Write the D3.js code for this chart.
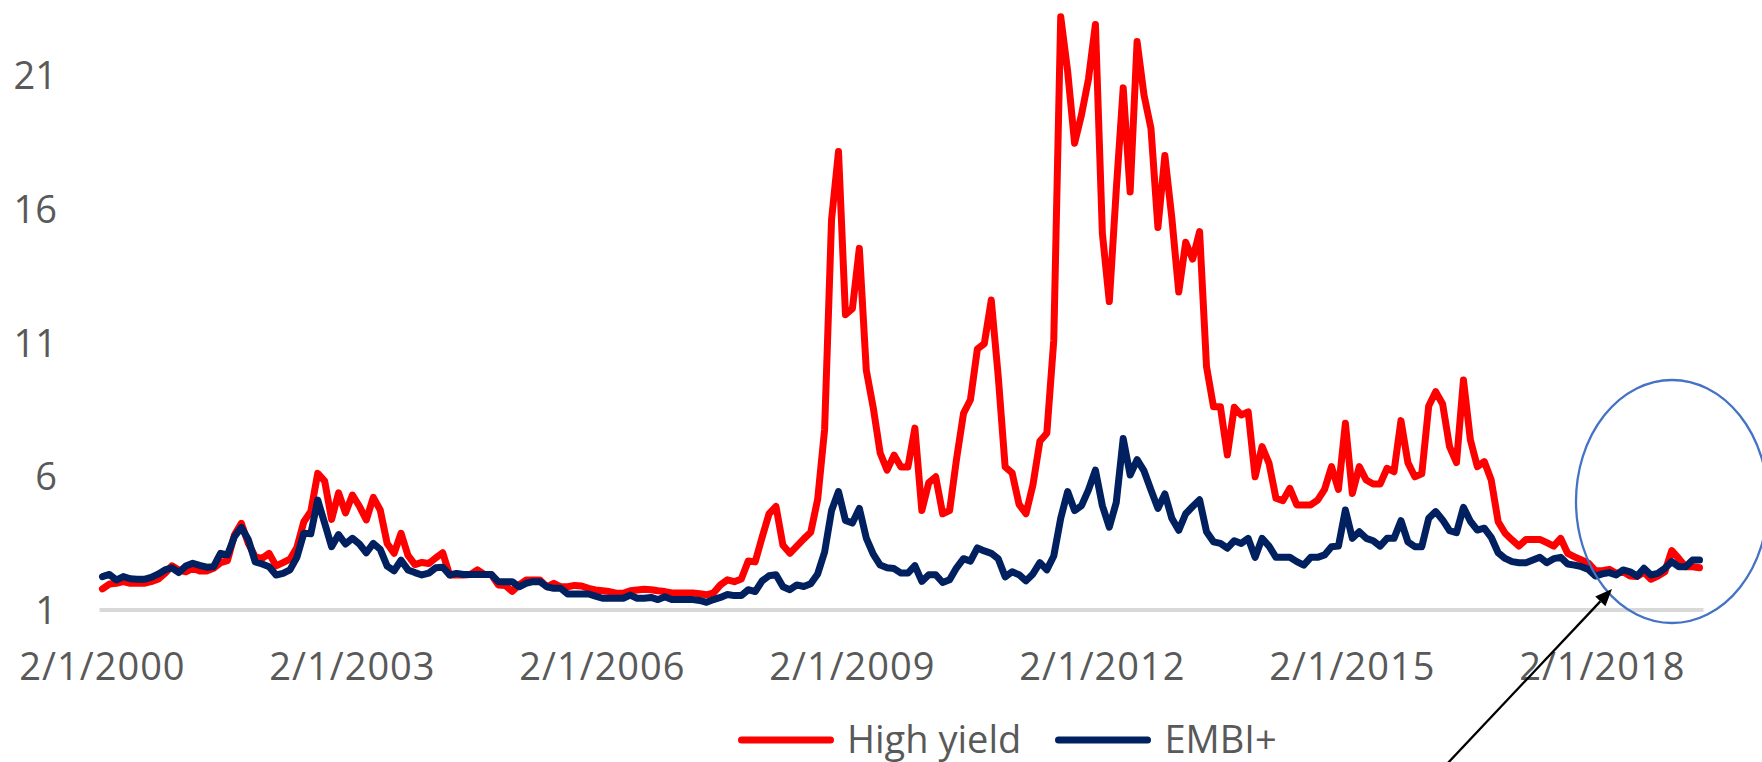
<!DOCTYPE html>
<html><head><meta charset="utf-8">
<script src="https://cdn.jsdelivr.net/npm/d3@7"></script>
<style>html,body{margin:0;padding:0;background:#fff;overflow:hidden}</style>
</head><body>
<svg id="chart" width="1762" height="762"></svg>
<script>
// High yield spread series (monthly, from 2/1/2000)
const highYield = [
1.77,1.95,1.98,2.04,1.98,1.98,1.98,2.04,2.13,2.35,
2.63,2.48,2.41,2.54,2.44,2.44,2.54,2.75,2.83,3.78,
4.22,3.47,2.97,2.91,3.10,2.63,2.75,2.88,3.32,4.28,
4.66,6.09,5.80,4.37,5.36,4.61,5.28,4.86,4.35,5.19,
4.72,3.47,3.10,3.85,3.02,2.68,2.76,2.72,2.93,3.12,
2.29,2.29,2.29,2.31,2.48,2.31,2.31,1.92,1.90,1.68,
1.92,2.10,2.10,2.10,1.85,1.98,1.85,1.85,1.90,1.88,
1.79,1.73,1.70,1.67,1.61,1.61,1.70,1.73,1.76,1.74,
1.70,1.67,1.62,1.62,1.62,1.62,1.59,1.55,1.62,1.92,
2.11,2.04,2.14,2.81,2.78,3.70,4.58,4.85,3.40,3.10,
3.37,3.64,3.89,5.12,7.73,15.58,18.12,12.02,12.25,14.50,
9.95,8.55,6.85,6.21,6.77,6.33,6.33,7.78,4.70,5.74,
5.96,4.58,4.70,6.63,8.33,8.84,10.74,10.94,12.57,9.73,
6.33,6.11,4.93,4.58,5.66,7.29,7.59,11.06,23.16,21.12,
18.43,19.50,20.83,22.87,15.06,12.51,16.68,20.50,16.61,22.23,
20.23,18.98,15.28,17.97,15.65,12.87,14.73,14.10,15.13,10.08,
8.58,8.58,6.78,8.56,8.27,8.39,5.96,7.09,6.47,5.16,
5.07,5.53,4.91,4.91,4.91,5.09,5.49,6.34,5.49,7.96,
5.34,6.34,5.84,5.69,5.69,6.28,6.15,8.06,6.49,5.96,
6.07,8.61,9.14,8.68,7.09,6.49,9.58,7.34,6.34,6.53,
5.84,4.28,3.85,3.60,3.37,3.62,3.62,3.62,3.50,3.37,
3.66,3.10,2.97,2.85,2.73,2.45,2.45,2.50,2.35,2.41,
2.25,2.23,2.39,2.13,2.25,2.41,3.20,2.91,2.60,2.60,
2.56];

// EMBI+ spread series
const embi = [
2.23,2.31,2.10,2.23,2.15,2.13,2.13,2.20,2.32,2.48,
2.56,2.38,2.63,2.73,2.65,2.58,2.60,3.10,3.04,3.72,
4.07,3.62,2.78,2.70,2.60,2.29,2.35,2.48,2.95,3.85,
3.83,5.09,4.22,3.35,3.80,3.45,3.66,3.45,3.12,3.47,
3.25,2.62,2.45,2.84,2.48,2.38,2.29,2.36,2.56,2.58,
2.29,2.35,2.31,2.31,2.31,2.31,2.31,2.04,2.04,2.04,
1.85,1.98,2.04,2.04,1.85,1.79,1.79,1.58,1.58,1.58,
1.58,1.50,1.42,1.42,1.42,1.42,1.54,1.42,1.42,1.45,
1.37,1.48,1.37,1.37,1.37,1.37,1.34,1.27,1.37,1.45,
1.56,1.52,1.52,1.74,1.67,2.07,2.26,2.30,1.85,1.74,
1.92,1.86,1.96,2.33,3.15,4.70,5.41,4.33,4.23,4.78,
3.67,3.07,2.66,2.56,2.53,2.36,2.36,2.64,2.05,2.30,
2.30,2.01,2.11,2.56,2.90,2.81,3.30,3.19,3.10,2.90,
2.22,2.41,2.30,2.07,2.33,2.75,2.48,3.00,4.41,5.41,
4.70,4.88,5.47,6.21,4.88,4.08,5.00,7.39,6.03,6.60,
6.18,5.47,4.78,5.32,4.41,3.96,4.58,4.85,5.10,3.91,
3.53,3.47,3.29,3.57,3.47,3.66,2.95,3.66,3.37,2.95,
2.95,2.95,2.79,2.66,2.95,2.95,3.04,3.35,3.37,4.72,
3.66,3.91,3.66,3.57,3.37,3.66,3.66,4.32,3.53,3.35,
3.35,4.41,4.66,4.35,3.95,3.87,4.82,4.30,3.97,4.04,
3.70,3.12,2.91,2.79,2.75,2.75,2.85,2.95,2.75,2.90,
2.95,2.70,2.66,2.60,2.50,2.25,2.33,2.38,2.29,2.48,
2.41,2.25,2.54,2.29,2.35,2.54,2.79,2.60,2.60,2.85,
2.85];

const startYear = 2000;
const startMonth = 2;
const categories = d3.range(highYield.length).map(i => {
  const m = startMonth - 1 + i;
  return `${(m % 12) + 1}/1/${startYear + Math.floor(m / 12)}`;
});
const tickLabels = ["2/1/2000","2/1/2003","2/1/2006","2/1/2009","2/1/2012","2/1/2015","2/1/2018"];
const yTicks = [1, 6, 11, 16, 21];
const seriesNames = ["High yield", "EMBI+"];
const seriesColors = ["#FF0000", "#002060"];

const FONT = "'Open Sans', 'Noto Sans', sans-serif";
const TEXT = "#595959";

const svg = d3.select("#chart");
const x = d3.scaleBand().domain(categories).range([99, 1703]);
const y = d3.scaleLinear().domain([1, 21]).range([609.5, 74.5]);

// Y axis (labels only)
const gy = svg.append("g").attr("transform", "translate(99,0)")
  .call(d3.axisLeft(y).tickValues(yTicks).tickSize(0).tickPadding(42).tickFormat(d3.format("d")));
gy.select(".domain").remove();
gy.selectAll("text").attr("dy", "0.37em")
  .style("font-family", FONT).style("font-size", "38px").style("fill", TEXT);

// X axis
const gx = svg.append("g").attr("transform", "translate(0,609.5)")
  .call(d3.axisBottom(x).tickValues(tickLabels).tickSize(0).tickSizeOuter(0));
gx.select(".domain").attr("stroke", "#D9D9D9").attr("stroke-width", 4);
gx.selectAll("text").attr("dy", null).attr("y", 70.5)
  .style("font-family", FONT).style("font-size", "38px").style("fill", TEXT)
  .style("letter-spacing", "1px");

// Lines
const line = d3.line()
  .x((d, i) => x(categories[i]) + x.bandwidth() / 2)
  .y(d => y(d));
const seriesData = [highYield, embi];
svg.append("g").selectAll("path").data(seriesData).join("path")
  .attr("d", d => line(d))
  .attr("fill", "none")
  .attr("stroke", (d, i) => seriesColors[i])
  .attr("stroke-width", 7)
  .attr("stroke-linejoin", "round")
  .attr("stroke-linecap", "round");

// Legend
const legendItems = [
  {x0: 741.5, x1: 830.5, tx: 847},
  {x0: 1058.5, x1: 1147.5, tx: 1164.5}
];
const lg = svg.append("g");
legendItems.forEach((it, i) => {
  lg.append("line").attr("x1", it.x0).attr("x2", it.x1).attr("y1", 740).attr("y2", 740)
    .attr("stroke", seriesColors[i]).attr("stroke-width", 7).attr("stroke-linecap", "round");
  lg.append("text").attr("x", it.tx).attr("y", 752.5).text(seriesNames[i])
    .style("font-family", FONT).style("font-size", "38px").style("fill", TEXT);
});

// Annotation: ellipse and arrow
svg.append("ellipse").attr("cx", 1672).attr("cy", 501.5).attr("rx", 96).attr("ry", 121.5)
  .attr("fill", "none").attr("stroke", "#4472C4").attr("stroke-width", 2.3);

const tip = [1612, 589], tail = [1446, 765];
const dx = tip[0] - tail[0], dy = tip[1] - tail[1];
const len = Math.hypot(dx, dy), ux = dx / len, uy = dy / len;
const headLen = 17, headW = 7;
const bx = tip[0] - ux * headLen, by = tip[1] - uy * headLen;
svg.append("line").attr("x1", tail[0]).attr("y1", tail[1]).attr("x2", bx).attr("y2", by)
  .attr("stroke", "#000").attr("stroke-width", 2.3);
svg.append("path")
  .attr("d", `M${tip[0]},${tip[1]} L${bx - uy * headW},${by + ux * headW} L${bx + uy * headW},${by - ux * headW} Z`)
  .attr("fill", "#000");
</script>
</body></html>
